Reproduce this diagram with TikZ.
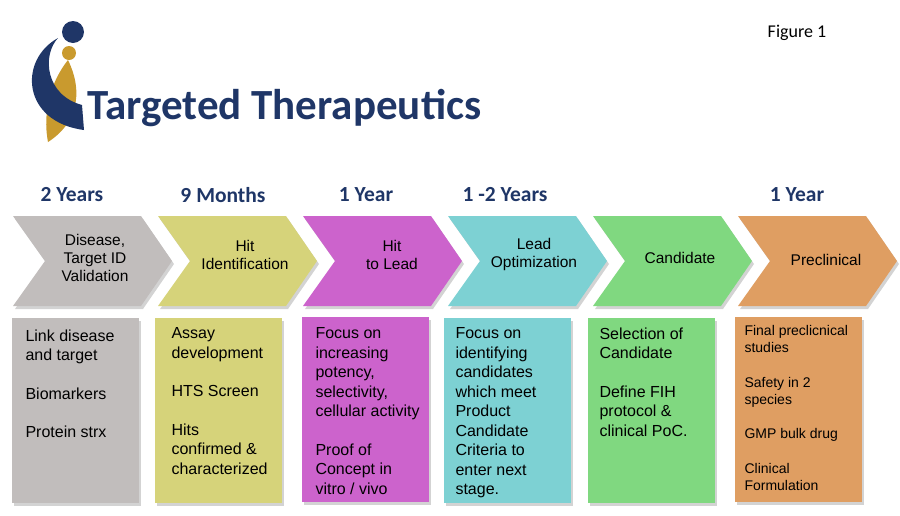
\documentclass[tikz,border=0pt]{standalone}
\usepackage{fontspec}
\setmainfont{Liberation Sans}
\newfontfamily\carl{Carlito}
\usetikzlibrary{shadows}
\definecolor{navy}{HTML}{1F3667}
\definecolor{gold}{HTML}{C99A2E}
\definecolor{cA}{HTML}{C1BDBC}
\definecolor{cB}{HTML}{D6D37A}
\definecolor{cC}{HTML}{CC63CC}
\definecolor{cD}{HTML}{7DD1D3}
\definecolor{cE}{HTML}{80D880}
\definecolor{cF}{HTML}{DF9E62}
\tikzset{
 hdr/.style={font=\carl\bfseries\fontsize{21.5}{24}\selectfont, text=navy},
 chev/.style={drop shadow={shadow xshift=2pt,shadow yshift=-3pt,opacity=0.35}},
 ctext/.style={font=\fontsize{15.5}{18}\selectfont, align=center},
 box/.style={drop shadow={shadow xshift=2pt,shadow yshift=-3pt,opacity=0.35}, anchor=north west, minimum width=127pt, minimum height=185pt, inner sep=0pt},
 btext/.style={font=\fontsize{16}{19.5}\selectfont, align=left, anchor=north west},
}
\begin{document}
\begin{tikzpicture}[x=1pt,y=-1pt]
\useasboundingbox (0,0) rectangle (900,515);
% logo
\fill[gold] (68,60) .. controls (85,95) and (75,125) .. (48,142) .. controls (42,110) and (52,80) .. (68,60);
\fill[navy] (58,38) .. controls (42,55) and (45,95) .. (82,105) -- (84,130) .. controls (22,122) and (18,60) .. (58,38);
\fill[gold] (69,53) circle (7);
\fill[navy] (73,32) circle (11);
\node[font=\carl\bfseries\fontsize{43}{46}\selectfont, text=navy, anchor=base west] (title) at (84,119) {Targeted Therapeutics};
\node[font=\carl\fontsize{18}{20}\selectfont, anchor=base] (fig) at (797,37) {Figure 1};
% headers
\node[hdr] (h1) at (72,195) {2 Years};
\node[hdr] (h2) at (223,195) {9 Months};
\node[hdr] (h3) at (366,195) {1 Year};
\node[hdr] (h4) at (505,195) {1 -2 Years};
\node[hdr] (h6) at (797,195) {1 Year};
% chevrons
\foreach \i/\c in {0/cA,1/cB,2/cC,3/cD,4/cE,5/cF}{
 \fill[\c,chev] ({13+145*\i},216) -- ({141+145*\i},216) -- ({172+145*\i},261) -- ({141+145*\i},306) -- ({13+145*\i},306) -- ({45+145*\i},261) -- cycle;
}
\node[ctext] (c1) at (95,258) {Disease,\\Target ID\\Validation};
\node[ctext] (c2) at (245,255) {Hit\\Identification};
\node[ctext] (c3) at (392,255) {Hit\\to Lead};
\node[ctext] (c4) at (534,254) {Lead\\Optimization};
\node[ctext] (c5) at (680,258) {Candidate};
\node[ctext] (c6) at (826,260) {Preclinical};
% boxes
\node[box,fill=cA] (b1) at (12,318) {};
\node[box,fill=cB] (b2) at (155,318) {};
\node[box,fill=cC] (b3) at (302,317) {};
\node[box,fill=cD] (b4) at (444,318) {};
\node[box,fill=cE] (b5) at (588,318) {};
\node[box,fill=cF] (b6) at (735,317) {};
\node[btext] (t1) at (22,326) {Link disease\\and target\\[19pt]Biomarkers\\[19pt]Protein strx};
\node[btext] (t2) at (168,324) {Assay\\development\\[19pt]HTS Screen\\[19pt]Hits\\confirmed \&\\characterized};
\node[btext] (t3) at (312,324) {Focus on\\increasing\\potency,\\selectivity,\\cellular activity\\[19pt]Proof of\\Concept in\\vitro / vivo};
\node[btext] (t4) at (452,324) {Focus on\\identifying\\candidates\\which meet\\Product\\Candidate\\Criteria to\\enter next\\stage.};
\node[btext] (t5) at (596,324) {Selection of\\Candidate\\[19pt]Define FIH\\protocol \&\\clinical PoC.};
\node[btext,font=\fontsize{14}{17.3}\selectfont] (t6) at (741,322) {Final preclicnical\\studies\\[17pt]Safety in 2\\species\\[17pt]GMP bulk drug\\[17pt]Clinical\\Formulation};
\end{tikzpicture}
\end{document}
